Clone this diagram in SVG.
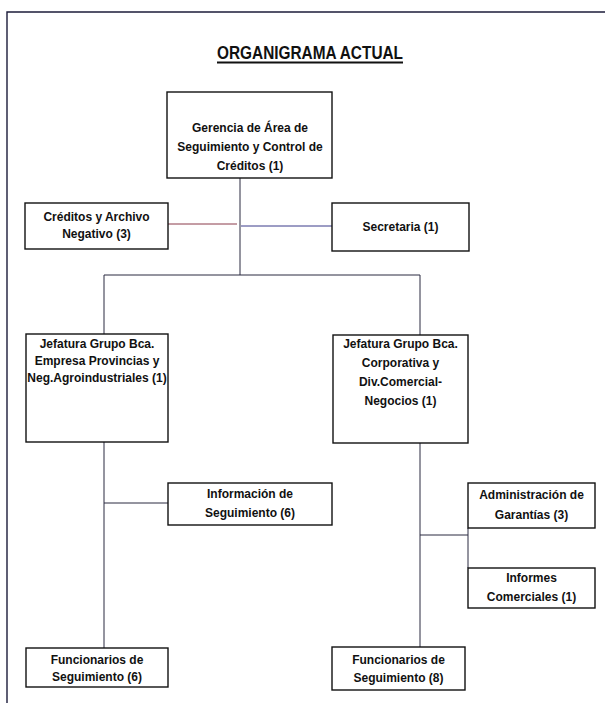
<svg xmlns="http://www.w3.org/2000/svg" width="605" height="703" viewBox="0 0 605 703">
<style>
.bg{fill:#ffffff}
.frame{fill:none;stroke:#1c1c3a;stroke-width:1.4}
.box{fill:#ffffff;stroke:#111111;stroke-width:1.4}
.t{font-family:"Liberation Sans",Arial,sans-serif;font-weight:bold;font-size:12px;fill:#111111;text-anchor:middle}
.title{font-family:"Liberation Sans",Arial,sans-serif;font-weight:bold;font-size:19px;fill:#111111;text-anchor:middle}
.c{fill:none;stroke:#2a2a40;stroke-width:1}
.red{stroke:#8a3a4a}
.blue{stroke:#3a3a8a}
</style>
<rect class="bg" x="0" y="0" width="605" height="703"/>
<path class="frame" d="M7,703 V12 H605"/>
<g id="title">
<text class="title" x="310" y="59" textLength="186" lengthAdjust="spacingAndGlyphs">ORGANIGRAMA ACTUAL</text>
<line x1="217" y1="62.5" x2="403" y2="62.5" stroke="#111" stroke-width="1.8"/>
</g>
<g id="connectors">
<line class="c" x1="240" y1="178" x2="240" y2="275"/>
<line class="c red" x1="168" y1="224" x2="237" y2="224"/>
<line class="c blue" x1="241" y1="226" x2="332" y2="226"/>
<path class="c" d="M104,334 V275 H420 V335"/>
<line class="c" x1="104" y1="442" x2="104" y2="648"/>
<line class="c" x1="104" y1="503" x2="168" y2="503"/>
<line class="c" x1="420" y1="443" x2="420" y2="647"/>
<line class="c" x1="420" y1="535" x2="468" y2="535"/>
<line class="c" x1="468" y1="528" x2="468" y2="568"/>
</g>
<g id="gerencia">
<rect class="box" x="167" y="92" width="165" height="86"/>
<text class="t" x="250" y="132">Gerencia de Área de</text>
<text class="t" x="250" y="151">Seguimiento y Control de</text>
<text class="t" x="250" y="170">Créditos (1)</text>
</g>
<g id="creditos">
<rect class="box" x="25" y="203" width="143" height="46"/>
<text class="t" x="96.5" y="221">Créditos y Archivo</text>
<text class="t" x="96.5" y="238">Negativo (3)</text>
</g>
<g id="secretaria">
<rect class="box" x="332" y="203" width="137" height="48"/>
<text class="t" x="400.5" y="231">Secretaria (1)</text>
</g>
<g id="jefatura-empresa">
<rect class="box" x="26" y="334" width="142" height="108"/>
<text class="t" x="97" y="348">Jefatura Grupo Bca.</text>
<text class="t" x="97" y="365">Empresa Provincias y</text>
<text class="t" x="97" y="382">Neg.Agroindustriales (1)</text>
</g>
<g id="jefatura-corporativa">
<rect class="box" x="333" y="335" width="135" height="108"/>
<text class="t" x="400.5" y="348">Jefatura Grupo Bca.</text>
<text class="t" x="400.5" y="367">Corporativa y</text>
<text class="t" x="400.5" y="386">Div.Comercial-</text>
<text class="t" x="400.5" y="405">Negocios (1)</text>
</g>
<g id="informacion">
<rect class="box" x="168" y="483" width="164" height="42"/>
<text class="t" x="250" y="498">Información de</text>
<text class="t" x="250" y="517">Seguimiento (6)</text>
</g>
<g id="administracion">
<rect class="box" x="468" y="483" width="127" height="45"/>
<text class="t" x="531.5" y="499">Administración de</text>
<text class="t" x="531.5" y="519">Garantías (3)</text>
</g>
<g id="informes">
<rect class="box" x="468" y="568" width="127" height="40"/>
<text class="t" x="531.5" y="582">Informes</text>
<text class="t" x="531.5" y="601">Comerciales (1)</text>
</g>
<g id="funcionarios-1">
<rect class="box" x="26" y="648" width="142" height="39"/>
<text class="t" x="97" y="664">Funcionarios de</text>
<text class="t" x="97" y="681">Seguimiento (6)</text>
</g>
<g id="funcionarios-2">
<rect class="box" x="332" y="647" width="133" height="43"/>
<text class="t" x="398.5" y="664">Funcionarios de</text>
<text class="t" x="398.5" y="682">Seguimiento (8)</text>
</g>
</svg>
